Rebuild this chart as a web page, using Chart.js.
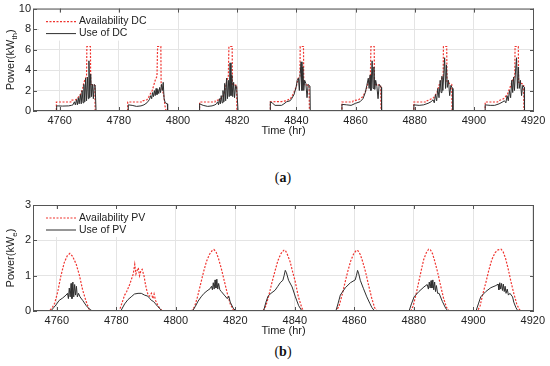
<!DOCTYPE html>
<html>
<head>
<meta charset="utf-8">
<script src="https://cdn.jsdelivr.net/npm/chart.js@4.4.1/dist/chart.umd.min.js"></script>
<style>
	body { margin: 0; background: #fff; width: 550px; height: 366px; position: relative; overflow: hidden; }
	canvas { position: absolute; left: 0; }
	#dcChart { top: 0; }
	#pvChart { top: 190px; }
	.caption { position: absolute; left: 0; width: 566px; text-align: center; font: 14px 'Liberation Serif', 'Times New Roman', serif; color: #111; line-height: 16px; }
</style>
</head>
<body>
<canvas id="dcChart" width="550" height="138"></canvas>
<div class="caption" style="top: 170px;">(<b>a</b>)</div>
<canvas id="pvChart" width="550" height="148"></canvas>
<div class="caption" style="top: 344px;">(<b>b</b>)</div>
<script>
const timeTicks = [4760, 4780, 4800, 4820, 4840, 4860, 4880, 4900, 4920];
const dcTicks = [0, 2, 4, 6, 8, 10];
const pvTicks = [0, 1, 2, 3];

// [time (hr), kW]
const dcAvailability = [
	[4751, 0], [4758.9, 0], [4758.9, 0.88], [4763.8, 0.88], [4763.9, 1.05], [4765.5, 1.1], [4766.2, 1.3], [4767, 1.6], [4767.7, 2.1], [4768.2, 2.8], [4768.8, 3.2], [4769.1, 3.4], [4769.2, 6.3], [4770.4, 6.3], [4770.5, 2.6], [4771.9, 2.5], [4772, 0],
	[4783, 0], [4783, 0.88], [4788, 0.88], [4788.2, 1.0], [4789.5, 1.1], [4790, 1.3], [4790.7, 1.7], [4791.3, 2.0], [4791.8, 2.5], [4792.3, 3.0], [4792.9, 3.4], [4793.1, 6.3], [4794.2, 6.3], [4794.3, 2.6], [4795.2, 1.5], [4795.6, 0.5], [4796, 0],
	[4807.3, 0], [4807.3, 0.88], [4812.5, 0.88], [4812.6, 1.0], [4814, 1.1], [4814.8, 1.3], [4815.5, 1.6], [4816, 2.2], [4816.5, 3.0], [4817, 3.3], [4817.2, 6.3], [4818.3, 6.3], [4818.4, 2.6], [4819.8, 2.5], [4819.9, 0],
	[4831.2, 0], [4831.2, 0.9], [4835, 0.92], [4836.5, 1.0], [4838, 1.2], [4839, 1.7], [4840, 2.4], [4840.6, 3.2], [4841.2, 3.4], [4841.3, 6.3], [4842.4, 6.3], [4842.5, 2.6], [4844.3, 2.5], [4844.4, 0],
	[4855.4, 0], [4855.4, 0.88], [4859, 0.88], [4859.2, 1.0], [4861, 1.1], [4862.5, 1.4], [4863.5, 2.0], [4864.3, 2.8], [4865, 3.3], [4865.2, 6.3], [4866.3, 6.3], [4866.4, 2.6], [4868.5, 2.5], [4868.6, 0],
	[4879.7, 0], [4879.7, 0.88], [4884, 0.88], [4884.2, 1.0], [4886.4, 1.3], [4887.5, 1.8], [4888.3, 2.6], [4889, 3.1], [4889.6, 3.4], [4889.7, 6.3], [4890.8, 6.3], [4890.9, 2.8], [4892.5, 2.6], [4892.6, 0],
	[4903.8, 0], [4903.8, 0.88], [4908, 0.88], [4908.3, 1.0], [4910, 1.2], [4911.3, 1.6], [4912.3, 2.4], [4913.2, 3.1], [4913.8, 3.4], [4913.9, 6.3], [4915, 6.3], [4915.1, 2.8], [4916.8, 2.6], [4916.9, 0], [4920.3, 0],
];
const dcUse = [
	[4751, 0], [4759, 0], [4759, 0.5], [4761, 0.48], [4763, 0.5], [4764, 0.55], [4764.5, 0.6], [4765, 0.9], [4765.3, 0.6], [4765.7, 1.1], [4766, 0.6], [4766.3, 1.3], [4766.6, 0.7], [4767, 1.6], [4767.3, 0.7], [4767.6, 2.0], [4767.9, 0.8], [4768.2, 2.6], [4768.5, 0.9], [4768.8, 3.2], [4769.1, 1.0], [4769.4, 3.3], [4769.7, 1.2], [4769.9, 4.9], [4770.2, 1.3], [4770.5, 3.6], [4770.8, 1.4], [4771.1, 2.6], [4771.4, 1.2], [4771.7, 2.6], [4772, 2.5], [4772.3, 0],
	[4783.2, 0], [4783.2, 0.6], [4784.5, 0.55], [4786, 0.45], [4787.5, 0.5], [4788.5, 0.6], [4789.5, 0.8], [4790.3, 1.1], [4790.8, 1.5], [4791.1, 1.2], [4791.4, 1.8], [4791.7, 1.4], [4792, 2.0], [4792.3, 1.5], [4792.6, 2.2], [4792.9, 1.6], [4793.2, 2.1], [4793.5, 1.7], [4793.8, 2.3], [4794.1, 1.8], [4794.4, 2.6], [4794.7, 2.0], [4795, 2.8], [4795.3, 1.2], [4795.7, 0.8], [4796.4, 0.7], [4796.5, 0],
	[4807.3, 0], [4807.3, 0.7], [4808.5, 0.55], [4810, 0.45], [4811.5, 0.5], [4812.5, 0.6], [4813, 0.7], [4813.4, 0.9], [4813.7, 0.6], [4814, 1.2], [4814.3, 0.7], [4814.6, 1.5], [4814.9, 0.8], [4815.2, 2.0], [4815.5, 0.9], [4815.8, 2.7], [4816.1, 1.0], [4816.4, 3.2], [4816.7, 1.2], [4817, 3.0], [4817.3, 1.4], [4817.6, 4.7], [4817.9, 1.5], [4818.2, 3.5], [4818.5, 1.4], [4818.8, 2.8], [4819.1, 1.3], [4819.5, 2.5], [4819.8, 2.4], [4820.3, 0],
	[4831.2, 0], [4831.2, 0.9], [4832, 0.75], [4832.8, 0.55], [4835, 0.55], [4835.8, 0.7], [4836.7, 0.9], [4837.9, 1.0], [4838.4, 1.2], [4839.2, 1.6], [4839.9, 2.3], [4840.3, 3.0], [4840.7, 3.2], [4841, 2.0], [4841.3, 3.6], [4841.6, 4.8], [4841.9, 2.0], [4842.2, 4.3], [4842.5, 2.0], [4842.8, 3.0], [4843.2, 2.7], [4843.6, 1.3], [4844, 2.6], [4844.6, 2.4], [4844.7, 0],
	[4855.4, 0], [4855.4, 0.65], [4857, 0.6], [4858.5, 0.55], [4860, 0.75], [4861.5, 0.9], [4862.5, 1.2], [4863.3, 1.8], [4863.8, 2.5], [4864.3, 3.2], [4864.6, 2.2], [4864.9, 3.5], [4865.2, 2.0], [4865.6, 4.9], [4865.9, 2.2], [4866.2, 4.3], [4866.5, 2.1], [4866.8, 3.0], [4867.2, 2.4], [4867.6, 1.2], [4868, 2.6], [4868.7, 2.3], [4868.8, 0],
	[4879.7, 0], [4879.7, 0.6], [4881.5, 0.55], [4883, 0.6], [4884.5, 0.75], [4885.5, 0.9], [4886.2, 1.1], [4886.6, 0.8], [4887, 1.6], [4887.4, 1.0], [4887.8, 2.2], [4888.2, 1.3], [4888.6, 3.0], [4888.9, 1.8], [4889.2, 3.4], [4889.5, 2.0], [4889.8, 3.5], [4890.1, 5.2], [4890.4, 2.2], [4890.7, 4.5], [4891, 2.3], [4891.4, 3.0], [4891.8, 1.5], [4892.2, 2.5], [4892.8, 2.2], [4892.9, 0],
	[4903.8, 0], [4903.8, 0.6], [4905.5, 0.55], [4907, 0.55], [4908.5, 0.7], [4909.5, 0.85], [4910.3, 1.0], [4910.8, 0.8], [4911.2, 1.5], [4911.6, 1.0], [4912, 2.0], [4912.4, 1.3], [4912.8, 3.0], [4913.1, 1.8], [4913.4, 3.3], [4913.7, 2.0], [4914, 3.6], [4914.4, 5.2], [4914.7, 2.2], [4915, 4.3], [4915.3, 2.2], [4915.7, 3.0], [4916.1, 1.5], [4916.5, 2.5], [4917, 2.3], [4917.1, 0], [4920.3, 0],
];

const pvAvailability = [
	[4752, 0], [4757.5, 0], [4758.5, 0.1], [4759.3, 0.22], [4760.3, 0.54], [4761.4, 1.0], [4762.5, 1.37], [4763.5, 1.56], [4764.4, 1.63], [4765.3, 1.55], [4766, 1.42], [4766.5, 1.33], [4767.6, 1.01], [4768.7, 0.59], [4769.9, 0.26], [4770.8, 0.06], [4771.5, 0],
	[4781, 0], [4782, 0.25], [4782.8, 0.45], [4783.5, 0.55], [4784.5, 0.75], [4785.3, 0.95], [4785.7, 1.05], [4786.2, 1.32], [4786.6, 1.05], [4787, 1.15], [4787.4, 1.22], [4787.8, 1.0], [4788.3, 1.15], [4788.7, 1.18], [4789.3, 1.0], [4789.8, 0.75], [4790.2, 0.6], [4790.7, 0.45], [4791.2, 0.42], [4791.8, 0.5], [4792.3, 0.35], [4792.7, 0.48], [4793.2, 0.3], [4794, 0.15], [4794.6, 0.08], [4795.5, 0],
	[4805.3, 0], [4806.3, 0.12], [4807.3, 0.4], [4808.3, 0.75], [4809.3, 1.1], [4810.3, 1.4], [4811.3, 1.6], [4812.3, 1.72], [4812.8, 1.74], [4813.5, 1.68], [4814.3, 1.5], [4815.3, 1.2], [4816.3, 0.85], [4817.3, 0.5], [4818.3, 0.2], [4819.3, 0.04], [4819.8, 0],
	[4829.3, 0], [4830.3, 0.15], [4831.3, 0.45], [4832.3, 0.8], [4833.3, 1.12], [4834.3, 1.42], [4835.3, 1.62], [4836.3, 1.72], [4836.8, 1.72], [4837.5, 1.6], [4838.4, 1.4], [4839.3, 1.1], [4840.1, 0.85], [4841.2, 0.4], [4842.4, 0.08], [4843, 0],
	[4853.8, 0], [4854.8, 0.12], [4855.8, 0.42], [4856.8, 0.78], [4857.8, 1.12], [4858.8, 1.42], [4859.8, 1.62], [4860.7, 1.72], [4861.3, 1.7], [4862, 1.6], [4862.8, 1.4], [4863.8, 1.1], [4864.8, 0.73], [4865.8, 0.38], [4866.8, 0.1], [4867.6, 0],
	[4879, 0], [4879.8, 0.15], [4880.7, 0.45], [4881.6, 0.8], [4882.5, 1.15], [4883.3, 1.45], [4884.2, 1.65], [4885, 1.75], [4885.6, 1.73], [4886.3, 1.62], [4887, 1.42], [4888, 1.1], [4889, 0.72], [4890, 0.36], [4891, 0.1], [4891.9, 0],
	[4901.4, 0], [4902.3, 0.15], [4903.1, 0.45], [4904.2, 0.8], [4905.2, 1.15], [4906.2, 1.45], [4907.3, 1.65], [4908.3, 1.73], [4909.3, 1.75], [4910, 1.68], [4910.8, 1.5], [4911.7, 1.2], [4912.6, 0.85], [4913.6, 0.5], [4914.6, 0.2], [4915.4, 0.05], [4916, 0], [4920.4, 0],
];
const pvUse = [
	[4752, 0], [4758, 0], [4759, 0.1], [4759.7, 0.17], [4760.8, 0.3], [4762, 0.37], [4763.1, 0.45], [4763.6, 0.5], [4763.9, 0.35], [4764.2, 0.65], [4764.5, 0.4], [4764.8, 0.78], [4765.1, 0.35], [4765.4, 0.82], [4765.7, 0.4], [4766, 0.75], [4766.3, 0.45], [4766.6, 0.7], [4766.9, 0.4], [4767.3, 0.5], [4767.8, 0.4], [4768.7, 0.3], [4769.9, 0.15], [4771, 0.05], [4772, 0],
	[4781.5, 0], [4782.8, 0.2], [4783.9, 0.32], [4785, 0.4], [4786.1, 0.48], [4787.3, 0.5], [4788.4, 0.5], [4789.5, 0.45], [4790.6, 0.42], [4791.3, 0.35], [4791.8, 0.3], [4792.5, 0.27], [4793.2, 0.2], [4794, 0.12], [4795.2, 0.02], [4795.8, 0],
	[4805.6, 0], [4806.5, 0.12], [4807.5, 0.28], [4808.5, 0.4], [4809.5, 0.5], [4810.5, 0.57], [4811.5, 0.63], [4812, 0.7], [4812.3, 0.6], [4812.6, 0.8], [4812.9, 0.62], [4813.2, 0.88], [4813.5, 0.65], [4813.8, 0.9], [4814.1, 0.62], [4814.4, 0.78], [4814.8, 0.6], [4815.3, 0.55], [4816.3, 0.45], [4817.3, 0.35], [4817.8, 0.42], [4818.3, 0.25], [4819.3, 0.08], [4820.2, 0],
	[4829.5, 0], [4830.3, 0.25], [4831, 0.42], [4832, 0.5], [4833.4, 0.59], [4834.3, 0.7], [4835.1, 0.8], [4836, 0.87], [4836.4, 1.0], [4836.8, 1.15], [4837.2, 1.08], [4837.9, 0.87], [4839.1, 0.68], [4840.2, 0.4], [4841.3, 0.15], [4842.4, 0],
	[4853.8, 0], [4854.5, 0.2], [4855.3, 0.45], [4857, 0.66], [4858.7, 0.8], [4860.3, 0.88], [4860.7, 1.0], [4861.1, 1.15], [4861.5, 1.05], [4862, 0.87], [4863.1, 0.63], [4864.2, 0.4], [4865.2, 0.22], [4865.9, 0.1], [4866.8, 0],
	[4878.4, 0], [4879.2, 0.2], [4880.1, 0.4], [4881.7, 0.55], [4883.4, 0.68], [4884.5, 0.75], [4884.9, 0.62], [4885.2, 0.82], [4885.5, 0.65], [4885.8, 0.86], [4886.1, 0.65], [4886.4, 0.88], [4886.7, 0.6], [4887, 0.82], [4887.3, 0.55], [4887.6, 0.72], [4888, 0.5], [4888.5, 0.5], [4889.6, 0.27], [4890.7, 0.08], [4891.5, 0],
	[4900.9, 0], [4901.7, 0.2], [4902.5, 0.4], [4904.2, 0.55], [4905.9, 0.66], [4907.6, 0.72], [4908.3, 0.76], [4908.6, 0.6], [4908.9, 0.8], [4909.2, 0.62], [4909.5, 0.78], [4909.8, 0.58], [4910.1, 0.76], [4910.4, 0.55], [4910.7, 0.7], [4911, 0.5], [4911.4, 0.62], [4911.8, 0.45], [4912.3, 0.5], [4913.2, 0.4], [4913.6, 0.25], [4914.3, 0.1], [4915, 0], [4920.4, 0],
];

const FONT = 'Arial, "Liberation Sans", Helvetica, sans-serif';
const TEXT = '#222';
const RED = '#f0342f';
const BLACK = '#2e2e2e';

// MATLAB-ish axes: full box, inward ticks, legend in the corner, y title with subscript
const matlabAxes = {
	id: 'matlabAxes',
	afterDatasetsDraw(chart, args, opts) {
		const { ctx, chartArea: a, scales: { x, y } } = chart;
		ctx.save();

		ctx.fillStyle = '#fff';
		ctx.fillRect(a.left + 6, a.top + 4, 108, 28);
		ctx.font = '10.5px ' + FONT;
		ctx.textBaseline = 'middle';
		chart.data.datasets.forEach((ds, i) => {
			const ly = a.top + 13 + i * 12;
			ctx.strokeStyle = ds.borderColor;
			ctx.lineWidth = ds.borderWidth;
			ctx.setLineDash(ds.borderDash || []);
			ctx.beginPath();
			ctx.moveTo(a.left + 13, ly);
			ctx.lineTo(a.left + 43, ly);
			ctx.stroke();
			ctx.setLineDash([]);
			ctx.fillStyle = TEXT;
			ctx.fillText(ds.label, a.left + 46, ly);
		});

		ctx.strokeStyle = '#555';
		ctx.lineWidth = 1;
		ctx.strokeRect(a.left + 0.5, a.top + 0.5, a.width - 1, a.height - 1);
		ctx.beginPath();
		x.ticks.forEach(t => {
			const px = Math.round(x.getPixelForValue(t.value)) + 0.5;
			ctx.moveTo(px, a.bottom); ctx.lineTo(px, a.bottom - 4);
			ctx.moveTo(px, a.top); ctx.lineTo(px, a.top + 4);
		});
		y.ticks.forEach(t => {
			const py = Math.round(y.getPixelForValue(t.value)) + 0.5;
			ctx.moveTo(a.left, py); ctx.lineTo(a.left + 4, py);
			ctx.moveTo(a.right, py); ctx.lineTo(a.right - 4, py);
		});
		ctx.stroke();

		ctx.translate(opts.titleX, (a.top + a.bottom) / 2);
		ctx.rotate(-Math.PI / 2);
		ctx.fillStyle = TEXT;
		ctx.textBaseline = 'alphabetic';
		const big = '11px ' + FONT, small = '8px ' + FONT;
		ctx.font = big;
		const w1 = ctx.measureText('Power(kW').width;
		const w3 = ctx.measureText(')').width;
		ctx.font = small;
		const w2 = ctx.measureText(opts.sub).width;
		const start = -(w1 + w2 + w3) / 2;
		ctx.fillText(opts.sub, start + w1, 7);
		ctx.font = big;
		ctx.fillText('Power(kW', start, 4);
		ctx.fillText(')', start + w1 + w2, 4);
		ctx.restore();
	},
};

function makeChart(id, cfg) {
	const ctx = document.getElementById(id).getContext('2d');
	const tickFont = { family: FONT, size: 11 };
	return new Chart(ctx, {
		type: 'line',
		data: {
			datasets: [
				{
					label: cfg.labels[0],
					data: cfg.avail.map(([x, y]) => ({ x, y })),
					borderColor: RED,
					borderWidth: 1.2,
					borderDash: [2, 1.5],
					pointRadius: 0,
					order: 1,
				},
				{
					label: cfg.labels[1],
					data: cfg.use.map(([x, y]) => ({ x, y })),
					borderColor: BLACK,
					borderWidth: 1,
					pointRadius: 0,
					order: 0,
				},
			],
		},
		options: {
			responsive: false,
			animation: false,
			events: [],
			layout: { padding: { top: cfg.top, right: 16, left: 0, bottom: 0 } },
			scales: {
				x: {
					type: 'linear',
					min: cfg.xMin,
					max: cfg.xMax,
					afterBuildTicks: s => { s.ticks = timeTicks.map(v => ({ value: v })); },
					afterFit: s => { s.height = 27; },
					grid: { color: '#e4e4e4', drawTicks: false },
					border: { display: false },
					ticks: { padding: 3, color: TEXT, font: tickFont, maxRotation: 0, autoSkip: false, callback: v => String(v) },
					title: { display: true, text: 'Time (hr)', padding: 0, color: TEXT, font: tickFont },
				},
				y: {
					min: 0,
					max: cfg.yMax,
					afterBuildTicks: s => { s.ticks = cfg.yTicks.map(v => ({ value: v })); },
					afterFit: s => { s.width = 33; },
					grid: { color: '#e4e4e4', drawTicks: false },
					border: { display: false },
					ticks: { padding: 2, color: TEXT, font: tickFont, callback: v => String(v) },
				},
			},
			plugins: {
				legend: { display: false },
				tooltip: { enabled: false },
				matlabAxes: { titleX: 10, sub: cfg.sub },
			},
		},
		plugins: [matlabAxes],
	});
}

makeChart('dcChart', {
	labels: ['Availability DC', 'Use of DC'],
	avail: dcAvailability,
	use: dcUse,
	yTicks: dcTicks,
	yMax: 10,
	xMin: 4751,
	xMax: 4920.3,
	top: 8,
	sub: 'th',
});

makeChart('pvChart', {
	labels: ['Availability PV', 'Use of PV'],
	avail: pvAvailability,
	use: pvUse,
	yTicks: pvTicks,
	yMax: 3,
	xMin: 4752,
	xMax: 4920.4,
	top: 15,
	sub: 'e',
});
</script>
</body>
</html>
